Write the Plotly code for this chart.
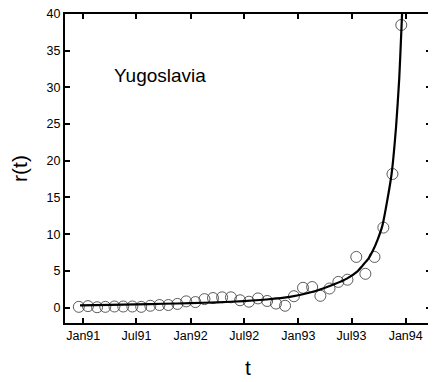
import plotly.graph_objects as go

# monthly observations (Dec 1990 - Dec 1993)
obs_dates = ["1990-12-17", "1991-01-17", "1991-02-17", "1991-03-17", "1991-04-17",
             "1991-05-17", "1991-06-17", "1991-07-17", "1991-08-17", "1991-09-17",
             "1991-10-17", "1991-11-17", "1991-12-17", "1992-01-17", "1992-02-17",
             "1992-03-17", "1992-04-17", "1992-05-17", "1992-06-17", "1992-07-17",
             "1992-08-17", "1992-09-17", "1992-10-17", "1992-11-17", "1992-12-17",
             "1993-01-17", "1993-02-17", "1993-03-17", "1993-04-17", "1993-05-17",
             "1993-06-17", "1993-07-17", "1993-08-17", "1993-09-17", "1993-10-17",
             "1993-11-17", "1993-12-17"]
obs_r = [0.1, 0.2, 0.05, 0.1, 0.15, 0.15, 0.15, 0.1, 0.25, 0.35,
         0.35, 0.5, 0.85, 0.75, 1.15, 1.3, 1.4, 1.4, 1.0, 0.8,
         1.25, 0.9, 0.55, 0.25, 1.55, 2.7, 2.8, 1.6, 2.6, 3.5,
         3.8, 6.9, 4.6, 6.9, 10.9, 18.2, 38.5]

# fitted curve
fit_dates = ["1990-12-21", "1991-04-01", "1991-07-02", "1991-10-01", "1992-01-01",
             "1992-04-01", "1992-06-30", "1992-09-15", "1992-12-03", "1993-02-10",
             "1993-03-26", "1993-05-05", "1993-06-15", "1993-07-20", "1993-08-08",
             "1993-08-28", "1993-09-12", "1993-09-28", "1993-10-14", "1993-10-29",
             "1993-11-14", "1993-11-29", "1993-12-10", "1993-12-17", "1993-12-20"]
fit_r = [0.3, 0.38, 0.45, 0.52, 0.6, 0.72, 0.88, 1.1, 1.45, 2.05,
         2.6, 3.2, 3.95, 4.9, 5.75, 6.7, 7.8, 9.3, 11.2, 14.3,
         18.2, 24.5, 31.2, 37.5, 40.3]

tick_vals = ["1991-01-01", "1991-07-01", "1992-01-01", "1992-07-01",
             "1993-01-01", "1993-07-01", "1994-01-01"]
tick_text = ["Jan91", "Jul91", "Jan92", "Jul92", "Jan93", "Jul93", "Jan94"]

FONT = "Liberation Sans, Arial, sans-serif"

fig = go.Figure()
fig.add_trace(go.Scatter(x=obs_dates, y=obs_r, mode="markers",
                         marker=dict(symbol="circle-open", size=11,
                                     color="#333333", line=dict(width=0.8))))
fig.add_trace(go.Scatter(x=fit_dates, y=fit_r, mode="lines",
                         line=dict(color="black", width=2.2, shape="spline", smoothing=0.6)))

fig.add_annotation(text="Yugoslavia", xref="paper", yref="paper", x=0.26, y=0.80,
                   xanchor="center", yanchor="middle", showarrow=False,
                   font=dict(family=FONT, size=19, color="black"))

# the page adds an 8px body margin, so the figure is a bit smaller and offset
fig.update_layout(
    width=428, height=374,
    margin=dict(l=57, r=5, t=6, b=59),
    plot_bgcolor="white", paper_bgcolor="white",
    showlegend=False,
    font=dict(family=FONT, color="black"),
    xaxis=dict(type="date", range=["1990-10-31", "1994-03-28"],
               tickvals=tick_vals, ticktext=tick_text,
               tickfont=dict(size=12.5), ticklabeloverflow="allow",
               ticks="inside", ticklen=5, tickwidth=1.5, tickcolor="black",
               showline=True, linewidth=2, linecolor="black", mirror="ticks",
               showgrid=False, zeroline=False, automargin=False,
               title=dict(text="t", font=dict(size=21), standoff=18)),
    yaxis=dict(range=[-2.1, 40], tickvals=[0, 5, 10, 15, 20, 25, 30, 35, 40],
               tickfont=dict(size=12.5), ticklabeloverflow="allow",
               ticks="inside", ticklen=5, tickwidth=1.5, tickcolor="black",
               showline=True, linewidth=2, linecolor="black", mirror="ticks",
               showgrid=False, zeroline=False, automargin=False,
               title=dict(text="r(t)", font=dict(size=21), standoff=18)),
)

fig.write_html("out.html")
